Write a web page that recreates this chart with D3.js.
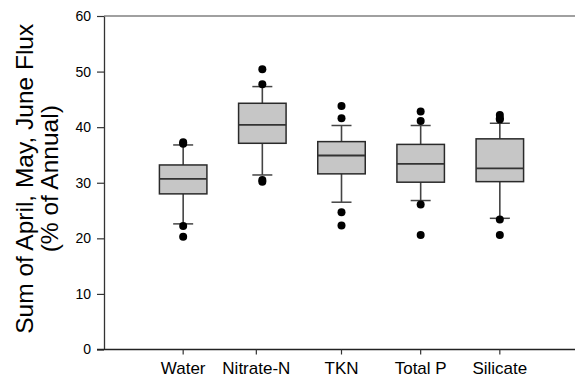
<!DOCTYPE html>
<html>
<head>
<meta charset="utf-8">
<script src="https://cdn.jsdelivr.net/npm/d3@7/dist/d3.min.js"></script>
<style>
  html, body { margin: 0; padding: 0; background: #fff; }
  svg { display: block; font-family: "Liberation Sans", Arial, sans-serif; }
</style>
</head>
<body>
<svg id="chart" width="575" height="377"></svg>
<script>
// Spring (April–June) share of annual flux, summarised per constituent
const categories = ["Water", "Nitrate-N", "TKN", "Total P", "Silicate"];
const whiskerLow = [22.6, 31.4, 26.5, 26.8, 23.6];
const q1         = [28.0, 37.1, 31.6, 30.1, 30.2];
const median     = [30.7, 40.4, 34.9, 33.4, 32.6];
const q3         = [33.2, 44.3, 37.4, 36.9, 37.9];
const whiskerHigh = [36.8, 47.3, 40.3, 40.3, 40.7];
const outliers = [
  [37.3, 37.0, 22.2, 20.3],
  [50.4, 47.7, 30.5, 30.2],
  [43.8, 41.6, 24.7, 22.3],
  [42.8, 41.1, 26.1, 20.6],
  [42.2, 41.6, 41.4, 23.4, 20.6]
];
const yTicks = [0, 10, 20, 30, 40, 50, 60];

const svg = d3.select("#chart");
const W = 575;

// Categories sit at positions 1..5 on a 0..6 axis
const x = d3.scaleLinear().domain([0, 6]).range([104, 579]);
const y = d3.scaleLinear().domain([0, 60]).range([349.5, 16]);

const boxW = 47.5, capW = 20, r = 4;

// top frame line
svg.append("line")
  .attr("x1", x(0)).attr("x2", W)
  .attr("y1", y(60)).attr("y2", y(60))
  .attr("stroke", "#808080").attr("stroke-width", 1.6);

// y axis
const yAxis = svg.append("g")
  .attr("transform", `translate(${x(0)},0)`)
  .call(d3.axisLeft(y).tickValues(yTicks).tickSize(7).tickPadding(6).tickSizeOuter(0));
yAxis.select(".domain").attr("stroke", "#333").attr("stroke-width", 1.3);
yAxis.selectAll(".tick line").attr("stroke", "#333").attr("stroke-width", 1.2);
yAxis.selectAll(".tick text").attr("font-size", 14).attr("fill", "#000")
  .attr("font-family", "Liberation Sans, Arial, sans-serif");

// x axis: ticks at the category positions (Nitrate-N label nudged left)
const labelNudge = { "Nitrate-N": -6 };
const xAxisG = svg.append("g").attr("transform", `translate(0,${y(0)})`);
xAxisG.append("line")
  .attr("x1", x(0) - 7).attr("x2", W)
  .attr("stroke", "#222").attr("stroke-width", 1.3);
const xt = xAxisG.selectAll("g.xtick").data(categories).join("g")
  .attr("class", "xtick")
  .attr("transform", (d, i) => `translate(${x(i + 1) + (labelNudge[d] || 0)},0)`);
xt.append("line").attr("y2", 5).attr("stroke", "#333").attr("stroke-width", 1.2);
xt.append("text")
  .attr("y", 24.5).attr("text-anchor", "middle")
  .attr("font-size", 17).attr("fill", "#000")
  .text(d => d);

// y axis title
const title = svg.append("text")
  .attr("transform", `translate(0,${(y(0) + y(60)) / 2 - 4}) rotate(-90)`)
  .attr("text-anchor", "middle")
  .attr("font-size", 24.5).attr("fill", "#000");
title.append("tspan").attr("x", 0).attr("y", 33).text("Sum of April, May, June Flux");
title.append("tspan").attr("x", 0).attr("y", 57.5).text("(% of Annual)");

// boxes
const boxes = svg.append("g").selectAll("g.box").data(categories).join("g")
  .attr("class", "box")
  .attr("transform", (d, i) => `translate(${x(i + 1)},0)`);

boxes.append("line").attr("class", "whisker")
  .attr("y1", (d, i) => y(whiskerHigh[i])).attr("y2", (d, i) => y(q3[i]))
  .attr("stroke", "#444").attr("stroke-width", 1.6);
boxes.append("line").attr("class", "whisker")
  .attr("y1", (d, i) => y(q1[i])).attr("y2", (d, i) => y(whiskerLow[i]))
  .attr("stroke", "#444").attr("stroke-width", 1.6);
boxes.append("line")
  .attr("x1", -capW / 2).attr("x2", capW / 2)
  .attr("y1", (d, i) => y(whiskerHigh[i])).attr("y2", (d, i) => y(whiskerHigh[i]))
  .attr("stroke", "#444").attr("stroke-width", 1.5);
boxes.append("line")
  .attr("x1", -capW / 2).attr("x2", capW / 2)
  .attr("y1", (d, i) => y(whiskerLow[i])).attr("y2", (d, i) => y(whiskerLow[i]))
  .attr("stroke", "#444").attr("stroke-width", 1.5);

boxes.append("rect")
  .attr("x", -boxW / 2).attr("width", boxW)
  .attr("y", (d, i) => y(q3[i]))
  .attr("height", (d, i) => y(q1[i]) - y(q3[i]))
  .attr("fill", "#c6c6c6").attr("stroke", "#2a2a2a").attr("stroke-width", 1.5);

boxes.append("line")
  .attr("x1", -boxW / 2).attr("x2", boxW / 2)
  .attr("y1", (d, i) => y(median[i])).attr("y2", (d, i) => y(median[i]))
  .attr("stroke", "#333").attr("stroke-width", 1.8);

boxes.selectAll("circle").data((d, i) => outliers[i]).join("circle")
  .attr("cx", 0).attr("cy", v => y(v)).attr("r", r).attr("fill", "#000");
</script>
</body>
</html>
